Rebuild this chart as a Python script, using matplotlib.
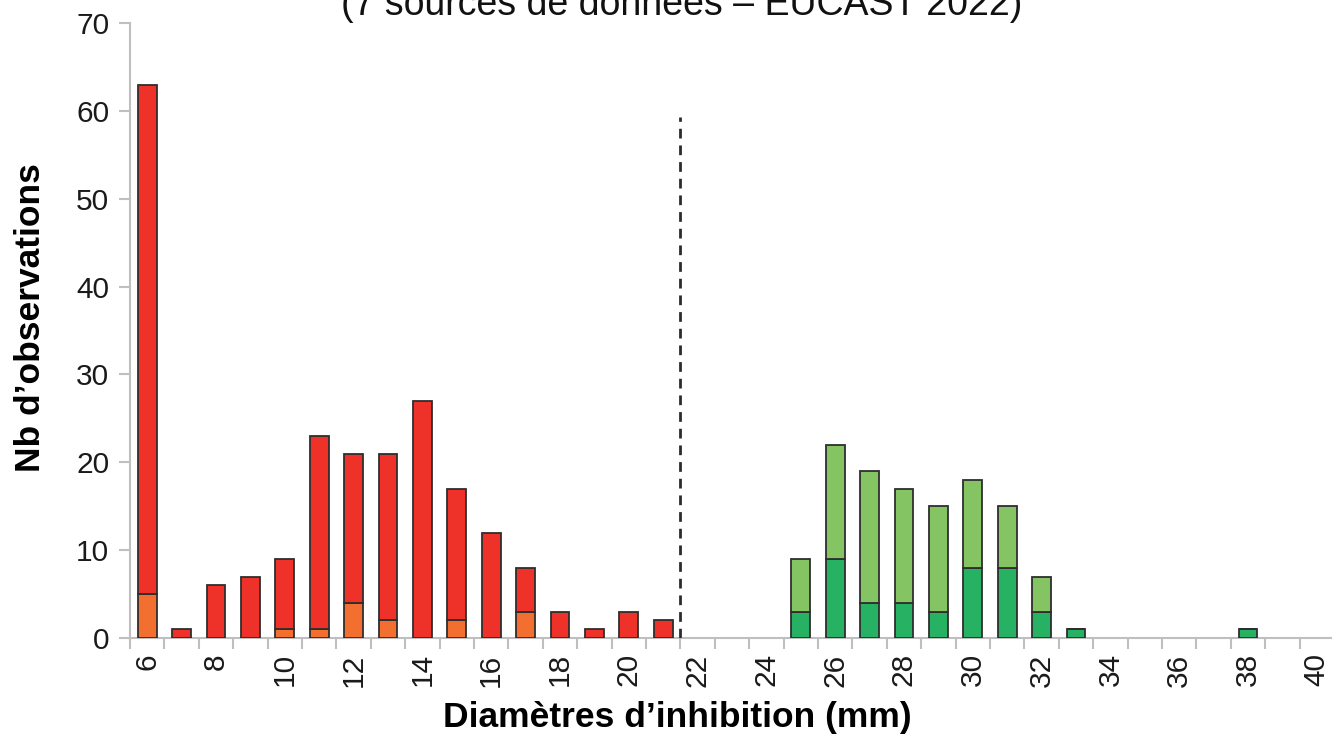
import matplotlib
matplotlib.use("Agg")
import matplotlib.pyplot as plt
import numpy as np

plt.rcParams['font.family'] = ['Liberation Sans', 'DejaVu Sans']

# Inhibition zone diameters (mm), one category per mm
diametres = list(range(6, 41))

# Resistant side: total counts and the orange sub-part at the bottom
rouge_total = [63, 1, 6, 7, 9, 23, 21, 21, 27, 17, 12, 8, 3, 1, 3, 2]
orange_part = [5, 0, 0, 0, 1, 1, 4, 2, 0, 2, 0, 3, 0, 0, 0, 0]
diam_rouge = list(range(6, 22))

# Susceptible side: total counts and the dark green sub-part at the bottom
vert_total = [9, 22, 19, 17, 15, 18, 15, 7, 1, 1]
vert_fonce = [3, 9, 4, 4, 3, 8, 8, 3, 1, 1]
diam_vert = [25, 26, 27, 28, 29, 30, 31, 32, 33, 38]

seuil = 21.5
seuil_hauteur = 59.3

titre = "(7 sources de données – EUCAST 2022)"
xlabel = "Diamètres d’inhibition (mm)"
ylabel = "Nb d’observations"

W, H = 1332, 736
fig = plt.figure(figsize=(W / 100, H / 100), dpi=100)
ax = fig.add_axes([130 / W, (H - 638) / H, 1204 / W, 615 / H])

c_rouge = "#EE3129"
c_orange = "#F26F2F"
c_vert_clair = "#84C462"
c_vert_fonce = "#27B163"
edge = "#2E2E2E"
bw = 0.55

rouge_haut = np.array(rouge_total) - np.array(orange_part)
vert_haut = np.array(vert_total) - np.array(vert_fonce)

ax.bar(diam_rouge, orange_part, width=bw, color=c_orange, edgecolor=edge, linewidth=1.3, zorder=3)
ax.bar(diam_rouge, rouge_haut, bottom=orange_part, width=bw, color=c_rouge, edgecolor=edge, linewidth=1.3, zorder=3)
ax.bar(diam_vert, vert_fonce, width=bw, color=c_vert_fonce, edgecolor=edge, linewidth=1.3, zorder=3)
ax.bar(diam_vert, vert_haut, bottom=vert_fonce, width=bw, color=c_vert_clair, edgecolor=edge, linewidth=1.3, zorder=3)

ax.vlines(seuil, 0, seuil_hauteur, colors="#2B2B2B", linestyles=(0, (3.5, 2.5)), linewidth=2, zorder=4)

ax.set_xlim(diametres[0] - 0.5, diametres[-1] + 0.5)
ax.set_ylim(0, 70)
ax.set_yticks(range(0, 71, 10))
ax.set_xticks([d for d in diametres if d % 2 == 0])
ax.set_xticks(np.arange(diametres[0] - 0.5, diametres[-1] + 1.0, 1), minor=True)
ax.tick_params(axis='x', which='major', length=0, labelsize=21.5, labelrotation=90, pad=11, colors="#1A1A1A")
ax.tick_params(axis='x', which='minor', length=8, width=1.5, color="#BFBFBF")
ax.tick_params(axis='y', length=8, width=1.5, color="#BFBFBF", labelsize=21.5, labelcolor="#1A1A1A", pad=7)

for s in ["top", "right"]:
    ax.spines[s].set_visible(False)
for s in ["left", "bottom"]:
    ax.spines[s].set_color("#BFBFBF")
    ax.spines[s].set_linewidth(1.5)

# Axis titles placed in figure pixels
fig.text(677 / W, 1 - 717 / H, xlabel, fontsize=25.5, fontweight='bold',
         ha='center', va='center', color="#000000")
fig.text(31 / W, 1 - 318 / H, ylabel, fontsize=25.5, fontweight='bold',
         ha='center', va='center', rotation=90, color="#000000")

fig.text(682 / W, 1 - 15 / H, titre, fontsize=27, ha='center', va='baseline', color="#111111")

fig.savefig("out.png", dpi=100)
